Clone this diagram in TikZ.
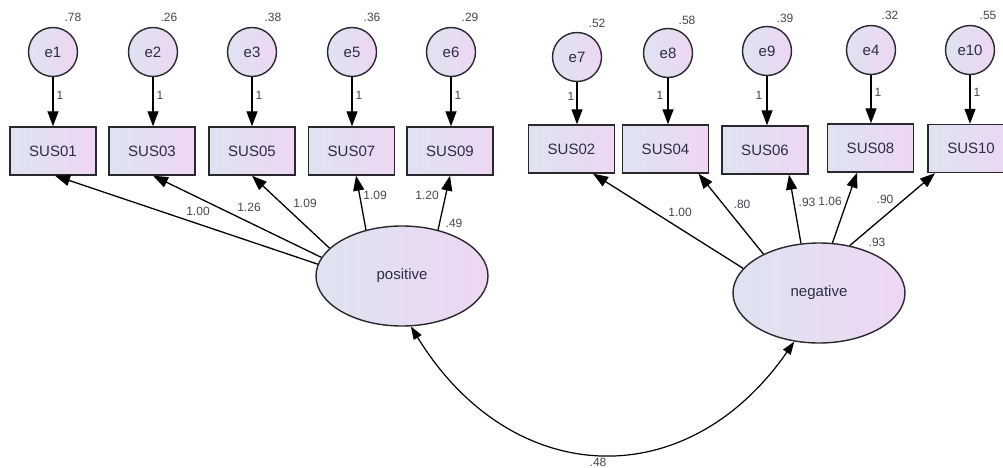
\documentclass[tikz,border=0pt]{standalone}
\usepackage{fontspec}
\setmainfont{Liberation Sans}
\usetikzlibrary{arrows.meta,shapes.geometric}
\definecolor{lcol}{RGB}{222,227,240}
\definecolor{rcol}{RGB}{238,214,243}
\definecolor{txt}{RGB}{45,45,65}
\definecolor{lbl}{RGB}{70,70,80}
\definecolor{edge}{RGB}{40,40,45}
\begin{document}
\begin{tikzpicture}[x=1pt,y=1pt,
  obs/.style={draw=edge, line width=1.4pt, left color=lcol, right color=rcol,
    minimum width=86pt, minimum height=48pt, inner sep=0pt,
    font=\fontsize{15}{18}\selectfont, text=txt},
  err/.style={circle, draw=edge, line width=1.4pt, left color=lcol, right color=rcol,
    minimum size=49pt, inner sep=0pt, font=\fontsize{15}{18}\selectfont, text=txt},
  lat/.style={ellipse, draw=edge, line width=1.4pt, left color=lcol, right color=rcol,
    minimum width=172pt, minimum height=100pt, inner sep=0pt,
    font=\fontsize{15}{18}\selectfont, text=txt},
  lab/.style={inner sep=0pt, font=\fontsize{12}{14}\selectfont, text=lbl},
  arr/.style={draw=black, line width=1.3pt, -{Triangle[length=15pt,width=11pt]}},
  cov/.style={draw=black, line width=1.2pt, {Triangle[length=13pt,width=9pt]}-{Triangle[length=13pt,width=9pt]}}
]
\useasboundingbox (0,0) rectangle (1003,-468);
\clip (0,0) rectangle (1003,-468);
\fill[white] (0,0) rectangle (1003,-468);

% latent variables
\node[lat] (pos) at (402,-276) {positive};
\node[lat] (neg) at (819,-293) {negative};

% observed variables
\node[obs] (SUS01) at (53,-151) {SUS01};
\node[obs] (SUS03) at (152,-151) {SUS03};
\node[obs] (SUS05) at (252,-151) {SUS05};
\node[obs] (SUS07) at (351.5,-151) {SUS07};
\node[obs] (SUS09) at (450,-151) {SUS09};
\node[obs] (SUS02) at (571.5,-149) {SUS02};
\node[obs] (SUS04) at (665.5,-149) {SUS04};
\node[obs] (SUS06) at (765,-150) {SUS06};
\node[obs] (SUS08) at (870.5,-148) {SUS08};
\node[obs] (SUS10) at (971,-148.5) {SUS10};

% error terms
\node[err] (e1) at (53,-52) {e1};
\node[err] (e2) at (153,-52) {e2};
\node[err] (e3) at (252,-52) {e3};
\node[err] (e5) at (352,-52) {e5};
\node[err] (e6) at (451,-52) {e6};
\node[err] (e7) at (577,-57) {e7};
\node[err] (e8) at (668,-53) {e8};
\node[err] (e9) at (767,-51) {e9};
\node[err] (e4) at (871,-50) {e4};
\node[err] (e10) at (970,-50) {e10};

% error arrows
\foreach \e/\s in {e1/SUS01,e2/SUS03,e3/SUS05,e5/SUS07,e6/SUS09,e7/SUS02,e8/SUS04,e9/SUS06,e4/SUS08,e10/SUS10}
  \draw[arr] (\e.south) -- (\e.south |- \s.north);

% loadings positive
\draw[arr] (pos.172.6) -- ([xshift=2]SUS01.south);
\draw[arr] (pos.167.9) -- ([xshift=1]SUS03.south);
\draw[arr] (pos.159.5) -- (SUS05.south);
\draw[arr] (pos.128) -- ([xshift=4.5]SUS07.south);
\draw[arr] (pos.52.7) -- (SUS09.south);
% loadings negative
\draw[arr] (neg.162.7) -- ([xshift=21.5]SUS02.south);
\draw[arr] (neg.145) -- ([xshift=33]SUS04.south);
\draw[arr] (neg.110) -- ([xshift=24]SUS06.south);
\draw[arr] (neg.75) -- ([xshift=-13.5]SUS08.south);
\draw[arr] (neg.57) -- ([xshift=-36]SUS10.south);

% covariance
\draw[cov] (pos.-80) .. controls +(-58.5:190) and +(-124.8:190) .. (neg.-117);

% variance labels
\node[lab] (v1) at (73,-17) {.78};
\node[lab] (v2) at (169,-17) {.26};
\node[lab] (v3) at (273,-17) {.38};
\node[lab] (v5) at (372,-17) {.36};
\node[lab] (v6) at (470,-17) {.29};
\node[lab] (v7) at (597,-23) {.52};
\node[lab] (v8) at (687,-20) {.58};
\node[lab] (v9) at (785,-18) {.39};
\node[lab] (v4) at (890,-15) {.32};
\node[lab] (v10) at (988,-15) {.55};

% fixed loadings
\node[lab] (w1) at (60,-95) {1};
\node[lab] (w2) at (160,-95) {1};
\node[lab] (w3) at (259,-95) {1};
\node[lab] (w5) at (359,-95) {1};
\node[lab] (w6) at (458,-95) {1};
\node[lab] (w7) at (571,-96) {1};
\node[lab] (w8) at (660,-95) {1};
\node[lab] (w9) at (759,-95) {1};
\node[lab] (w4) at (878,-92) {1};
\node[lab] (w10) at (977,-92) {1};

% loading labels
\node[lab] (l1) at (198,-211) {1.00};
\node[lab] (l3) at (249,-207) {1.26};
\node[lab] (l5) at (305,-203) {1.09};
\node[lab] (l7) at (375,-195) {1.09};
\node[lab] (l9) at (427,-195) {1.20};
\node[lab] (r1) at (454,-223) {.49};
\node[lab] (l2) at (680,-212) {1.00};
\node[lab] (l4) at (742,-204) {.80};
\node[lab] (l6) at (807,-202) {.93};
\node[lab] (l8) at (830,-201) {1.06};
\node[lab] (l10) at (885,-199) {.90};
\node[lab] (r2) at (877,-242) {.93};
\node[lab] (c) at (598,-462) {.48};
\end{tikzpicture}
\end{document}
